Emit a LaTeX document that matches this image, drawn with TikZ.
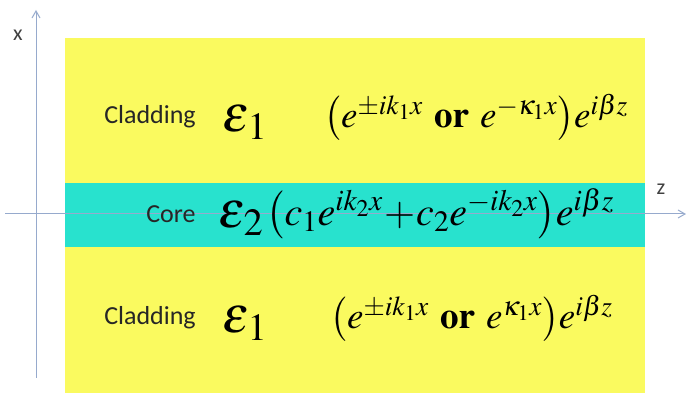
\documentclass[tikz,border=0pt]{standalone}
\usepackage{mathptmx}
\usepackage{fontspec}
\setsansfont{Carlito}
\usepackage{tikz}
\usetikzlibrary{arrows.meta}
\definecolor{cladyellow}{RGB}{250,250,95}
\definecolor{corecyan}{RGB}{40,226,206}
\definecolor{axisblue}{RGB}{150,170,205}

\begin{document}
\begin{tikzpicture}[
  x=1pt, y=1pt,
  layer/.style={font=\sffamily\fontsize{26}{30}\selectfont, text=black!85, inner sep=0pt},
  perm/.style={font=\fontsize{52}{58}\selectfont, inner sep=0pt},
  field/.style={font=\fontsize{37}{43}\selectfont, inner sep=0pt, anchor=west},
  axis/.style={-{Straight Barb[length=7pt,width=8pt]}, draw=axisblue, line width=1pt},
  axlabel/.style={font=\sffamily\fontsize{22}{26}\selectfont, text=black!75}
]
  \useasboundingbox (0,0) rectangle (686,393);

  % Slab layers (cladding - core - cladding)
  \fill[cladyellow] (65,0) rectangle (645,355);
  \fill[corecyan] (65,146) rectangle (645,210);

  % Axes
  \coordinate (xbot) at (36,15);
  \coordinate (xtop) at (36,383);
  \coordinate (zleft) at (5,179);
  \coordinate (zright) at (686,179);
  \draw[axis] (xbot) -- (xtop);
  \draw[axis] (zleft) -- (zright);
  \node[axlabel] (xlab) at (18,358) {x};
  \node[axlabel] (zlab) at (661,204) {z};

  % Layer names
  \node[layer] (cladtop) at (150,276) {Cladding};
  \node[layer] (core) at (171,179) {Core};
  \node[layer] (cladbot) at (150,75) {Cladding};

  % Permittivities
  \node[perm] (epstop) at (245,271) {$\varepsilon_{\mkern1mu 1}$};
  \node[perm] (epscore) at (241,175) {$\varepsilon_{\mkern1mu 2}$};
  \node[perm] (epsbot) at (245,70) {$\varepsilon_{\mkern1mu 1}$};

  % Field profiles
  \node[field] (ftop) at (324,276) {$\left(e^{\pm ik_1x}\ \mathbf{or}\ e^{-\kappa_1x}\right)\!e^{i\beta z}$};
  \node[field, font=\fontsize{40}{46}\selectfont] (fcore) at (266,179) {$\left(c_1e^{ik_2x}\!+\!c_2e^{-ik_2x}\right)\!e^{i\beta z}$};
  \node[field] (fbot) at (330,75) {$\left(e^{\pm ik_1x}\ \mathbf{or}\ e^{\kappa_1x}\right)\!e^{i\beta z}$};
\end{tikzpicture}
\end{document}
